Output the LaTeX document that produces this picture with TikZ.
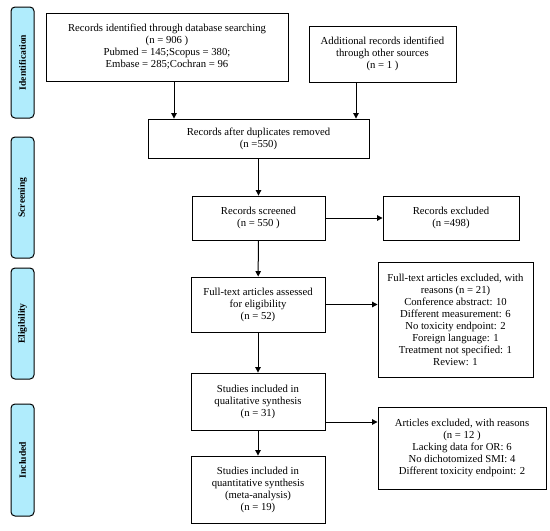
\documentclass[tikz,border=0pt]{standalone}
\usepackage{fontspec}
\setmainfont{Liberation Serif}
\usetikzlibrary{arrows.meta}
\definecolor{phasecol}{RGB}{176,236,252}
\tikzset{
  box/.style={draw=black, line width=0.9pt, fill=white, align=center, inner sep=0pt,
    font=\fontsize{10.7}{12}\selectfont},
  phase/.style={draw=black, line width=1pt, fill=phasecol, rounded corners=4pt, inner sep=0pt,
    minimum width=23pt, font=\bfseries\fontsize{9.6}{12}\selectfont},
  arr/.style={line width=1pt, -{Triangle[length=5.5pt,width=5.5pt]}}
}
\begin{document}
\begin{tikzpicture}[x=1pt,y=-1pt]
\useasboundingbox (0,0) rectangle (550,531);
% phase labels
\node[phase, minimum height=111pt] (p1) at (22.5,62.5) {\rotatebox{90}{Identification}};
\node[phase, minimum height=121pt] (p2) at (22.5,197.5) {\rotatebox{90}{Screening}};
\node[phase, minimum height=111pt] (p3) at (22.5,323.5) {\rotatebox{90}{Eligibility}};
\node[phase, minimum height=112pt] (p4) at (22.5,460) {\rotatebox{90}{Included}};
% boxes
\node[box, minimum width=242pt, minimum height=68pt] (b1) at (167,47)
  {Records identified through database searching\\(n = 906 )\\Pubmed = 145;Scopus = 380;\\Embase = 285;Cochran = 96};
\node[box, minimum width=147pt, minimum height=56pt] (b2) at (382.5,54)
  {Additional records identified\\through other sources\\(n = 1 )};
\node[box, minimum width=221pt, minimum height=39pt] (b3) at (258.5,138.5)
  {Records after duplicates removed\\(n =550)};
\node[box, minimum width=133pt, minimum height=44pt] (b4) at (258.5,218)
  {Records screened\\(n = 550 )};
\node[box, minimum width=136pt, minimum height=44pt] (b5) at (451,218)
  {Records excluded\\(n =498)};
\node[box, minimum width=134pt, minimum height=55pt] (b6) at (258,304.5)
  {Full-text articles assessed\\for eligibility\\(n = 52)};
\node[box, minimum width=155pt, minimum height=115pt] (b7) at (455.5,319.5)
  {Full-text articles excluded, with\\reasons (n = 21)\\Conference abstract: 10\\Different measurement: 6\\No toxicity endpoint: 2\\Foreign language: 1\\Treatment not specified: 1\\Review: 1};
\node[box, minimum width=134pt, minimum height=57pt] (b8) at (258,401.5)
  {Studies included in\\qualitative synthesis\\(n = 31)};
\node[box, minimum width=168pt, minimum height=82pt] (b9) at (462,448)
  {Articles excluded, with reasons\\(n = 12 )\\Lacking data for OR: 6\\No dichotomized SMI: 4\\Different toxicity endpoint: 2};
\node[box, minimum width=134pt, minimum height=67pt] (b10) at (258,489.5)
  {Studies included in\\quantitative synthesis\\(meta-analysis)\\(n = 19)};
% connectors
\coordinate (c1) at (174,0);
\coordinate (c2) at (356,0);
\draw[arr] (b1.south -| c1) -- (b3.north -| c1);
\draw[arr] (b2.south -| c2) -- (b3.north -| c2);
\draw[arr] (b3) -- (b4);
\draw[arr] (b4) -- (b5);
\draw[arr] (b4) -- (b6);
\draw[arr] (b6.east) -- (b6.east -| b7.west);
\draw[arr] (b6) -- (b8);
\draw[arr] (b8.south) -- (b10.north);
\coordinate (c3) at (0,422);
\draw[arr] (b8.east |- c3) -- (b9.west |- c3);
\end{tikzpicture}
\end{document}
